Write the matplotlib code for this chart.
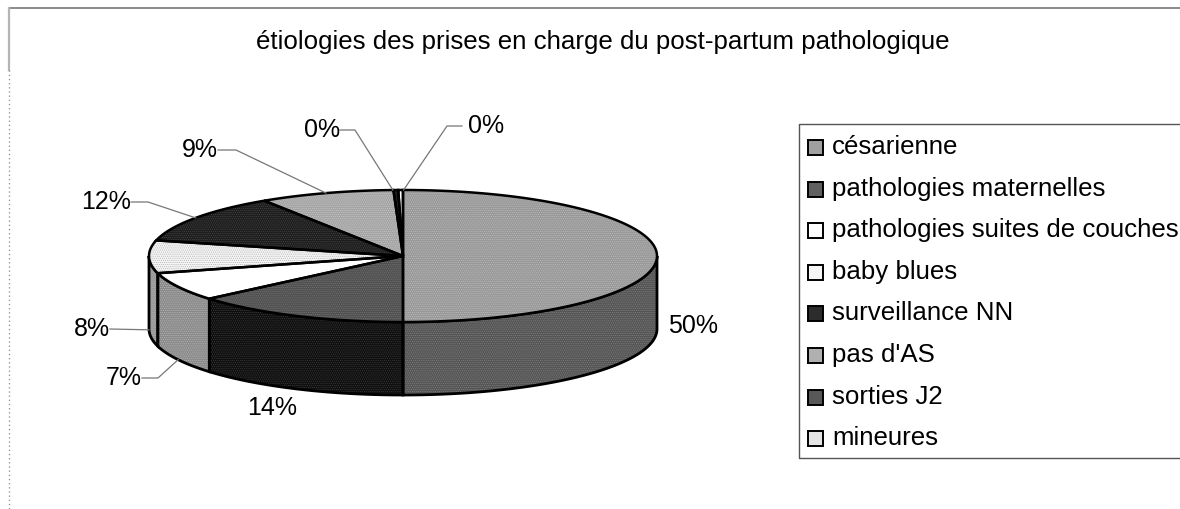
import numpy as np
import matplotlib
matplotlib.use('Agg')
import matplotlib.pyplot as plt
from matplotlib.patches import Polygon, Rectangle

plt.rcParams['font.family'] = ['Liberation Sans', 'DejaVu Sans']
plt.rcParams['hatch.linewidth'] = 0.5

# data
title = "étiologies des prises en charge du post-partum pathologique"
categories = ['césarienne', 'pathologies maternelles', 'pathologies suites de couches',
              'baby blues', 'surveillance NN', "pas d'AS", 'sorties J2', 'mineures']
values = [50, 13.8, 7, 8, 12, 8.6, 0.3, 0.3]

# styles, same order as categories
top_colors = ['#989898', '#505050', '#ffffff', '#f6f6f6', '#1c1c1c', '#a4a4a4', '#202020', '#ffffff']
top_specks = ['#bcbcbc', '#747474', '#ffffff', '#b4b4b4', '#484848', '#c6c6c6', '#202020', '#ffffff']
side_colors = ['#545454', '#0e0e0e', '#8a8a8a', '#949494', '#0e0e0e', '#5c5c5c', '#0e0e0e', '#a0a0a0']
side_specks = ['#808080', '#3c3c3c', '#b4b4b4', '#bcbcbc', '#3c3c3c', '#808080', '#3c3c3c', '#c0c0c0']
legend_colors = ['#a0a0a0', '#606060', '#ffffff', '#f6f6f6', '#2c2c2c', '#b0b0b0', '#585858', '#e4e4e4']

# pie layout in pixels
cx, cy = 403, 256
rx, ry = 254, 66
depth = 73

# label text position (edge, y) and elbow of the leader line
label_pos = [(668, 326, 'left'), (272, 408, 'center'), (142, 378, 'right'), (110, 329, 'right'),
             (131, 202, 'right'), (218, 150, 'right'), (340, 130, 'right'), (468, 126, 'left')]
elbows = [None, None, (158, 378), None, (148, 202), (236, 150), (355, 130), (447, 126)]
anchor_shift = [0, 0, 0, 0, 0, 0, -3, 3]


def rim(theta):
    return cx + rx * np.sin(theta), cy - ry * np.cos(theta)


fig = plt.figure(figsize=(11.8, 5.09), dpi=100)
ax = fig.add_axes([0, 0, 1, 1])
ax.set_xlim(0, 1180)
ax.set_ylim(509, 0)
ax.axis('off')

# outer frame, only left and top survive in the scan
ax.plot([8.5, 1180], [7.5, 7.5], color='#777777', lw=1.2)
ax.plot([8.5, 8.5], [7.5, 70], color='#b4b4b4', lw=1.6)
ax.plot([8.5, 8.5], [70, 509], color='#999999', lw=1, ls=(0, (1, 2)))

edges = np.radians(np.concatenate([[0], np.cumsum(values)]) * 360 / sum(values))

# side walls, only the part facing the viewer
for i in range(len(values)):
    a, b = max(edges[i], np.pi / 2), min(edges[i + 1], 3 * np.pi / 2)
    if b <= a:
        continue
    t = np.linspace(a, b, 80)
    x, y = rim(t)
    pts = np.column_stack([np.r_[x, x[::-1]], np.r_[y, y[::-1] + depth]])
    ax.add_patch(Polygon(pts, fc=side_colors[i], ec=side_specks[i], hatch='........', lw=0, zorder=2))
    ax.add_patch(Polygon(pts, fc='none', ec='black', lw=2, zorder=3))

# top faces
for i in range(len(values)):
    t = np.linspace(edges[i], edges[i + 1], 120)
    x, y = rim(t)
    pts = np.column_stack([np.r_[cx, x], np.r_[cy, y]])
    ax.add_patch(Polygon(pts, fc=top_colors[i], ec=top_specks[i], hatch='........', lw=0, zorder=4))
    ax.add_patch(Polygon(pts, fc='none', ec='black', lw=1.8, zorder=5))

# percentage labels with leader lines
for i, v in enumerate(values):
    px, py, ha = label_pos[i]
    ax.text(px, py, '%d%%' % round(v), fontsize=18, ha=ha, va='center', color='black', zorder=7)
    if elbows[i] is None and i != 3:
        continue
    mid = (edges[i] + edges[i + 1]) / 2
    ax_, ay_ = rim(mid)
    if np.cos(mid) < 0:
        ay_ += depth
    ax_ += anchor_shift[i]
    if elbows[i] is None:
        xs, ys = [px, ax_], [py, ay_]
    else:
        xs, ys = [px, elbows[i][0], ax_], [py, elbows[i][1], ay_]
    if ha == 'left':
        xs[0] = px - 6
    ax.plot(xs, ys, color='#777777', lw=0.9, zorder=6)

ax.text(603, 42, title, fontsize=18.6, ha='center', va='center', color='black')

# legend box, runs off the right edge
ax.plot([1180, 799, 799, 1180], [124, 124, 458, 458], color='#555555', lw=1)
for i, name in enumerate(categories):
    ly = 147 + i * 41.6
    ax.add_patch(Rectangle((808, ly - 7), 15, 15, fc=legend_colors[i], ec='black', lw=1.4))
    ax.text(832, ly, name, fontsize=18.6, ha='left', va='center', color='black')

fig.savefig('out.png', dpi=100)
